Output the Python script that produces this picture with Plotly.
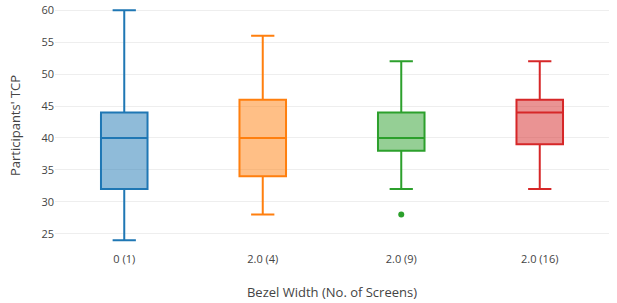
import plotly.graph_objects as go

categories = ["0 (1)", "2.0 (4)", "2.0 (9)", "2.0 (16)"]
lower = [24, 28, 32, 32]
q1 = [32, 34, 38, 39]
median = [40, 40, 40, 44]
q3 = [44, 46, 44, 46]
upper = [60, 56, 52, 52]
outlier_cat = ["2.0 (9)"]
outlier_val = [28]
colors = ["#1f77b4", "#ff7f0e", "#2ca02c", "#d62728"]

fig = go.Figure()
for i, c in enumerate(categories):
    fig.add_trace(go.Box(
        x=[c], q1=[q1[i]], median=[median[i]], q3=[q3[i]],
        lowerfence=[lower[i]], upperfence=[upper[i]],
        marker_color=colors[i], line=dict(width=2),
        boxpoints=False, showlegend=False, name=c,
    ))
fig.add_trace(go.Scatter(
    x=outlier_cat, y=outlier_val, mode="markers",
    marker=dict(color=colors[2], size=6), showlegend=False,
))

fig.update_layout(
    width=617, height=303,
    margin=dict(l=55, r=8, t=0, b=52),
    paper_bgcolor="white", plot_bgcolor="white",
    boxmode="overlay", boxgap=0.52,
    font=dict(family="Open Sans", color="#444", size=11),
    xaxis=dict(
        categoryorder="array", categoryarray=categories,
        showgrid=False, showline=False, ticks="",
        title=dict(text="Bezel Width (No. of Screens)", font=dict(size=13), standoff=22),
        range=[-0.5, 3.5],
    ),
    yaxis=dict(
        range=[22.3, 61.6], dtick=5, tick0=0,
        showgrid=True, gridcolor="#eee", zeroline=False, showline=False,
        title=dict(text="Participants' TCP", font=dict(size=13), standoff=17),
    ),
)

fig.write_html("out.html")
